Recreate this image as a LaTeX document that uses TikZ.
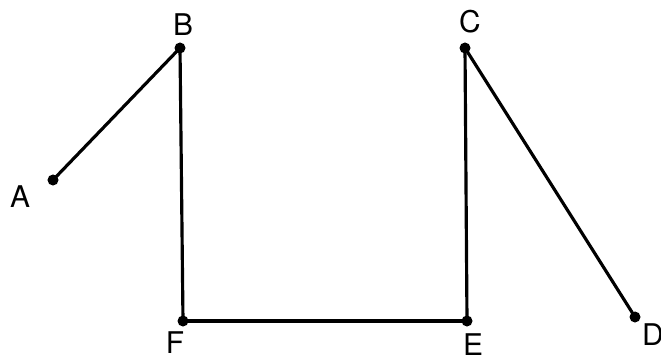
\documentclass[tikz,border=0pt]{standalone}
\usepackage{fontspec}
\setsansfont{TeX Gyre Heros}
\usepackage{tikz}
\usetikzlibrary{positioning}

\begin{document}
\begin{tikzpicture}[
  x=0.01cm, y=-0.01cm,
  pt/.style={circle, fill, inner sep=0pt, minimum size=1.1mm},
  lbl/.style={font=\sffamily\fontsize{8.5}{10}\selectfont, inner sep=1pt},
  seg/.style={line width=0.9pt}
]
\useasboundingbox (0,0) rectangle (661,361);
\node[pt] (A) at (53,180) {};
\node[pt] (B) at (180,48) {};
\node[pt] (C) at (465,48) {};
\node[pt] (D) at (635,317) {};
\node[pt] (E) at (467,321) {};
\node[pt] (F) at (183,321) {};
\node[lbl] (la) at (20,197) {A};
\node[lbl] (lb) at (183,25) {B};
\node[lbl] (lc) at (470,22) {C};
\node[lbl] (ld) at (653,335) {D};
\node[lbl] (le) at (473,345) {E};
\node[lbl] (lf) at (175,343) {F};
\draw[seg] (A.center) -- (B.center);
\draw[seg] (B.center) -- (F.center);
\draw[seg] (F.center) -- (E.center);
\draw[seg] (E.center) -- (C.center);
\draw[seg] (C.center) -- (D.center);
\end{tikzpicture}
\end{document}
